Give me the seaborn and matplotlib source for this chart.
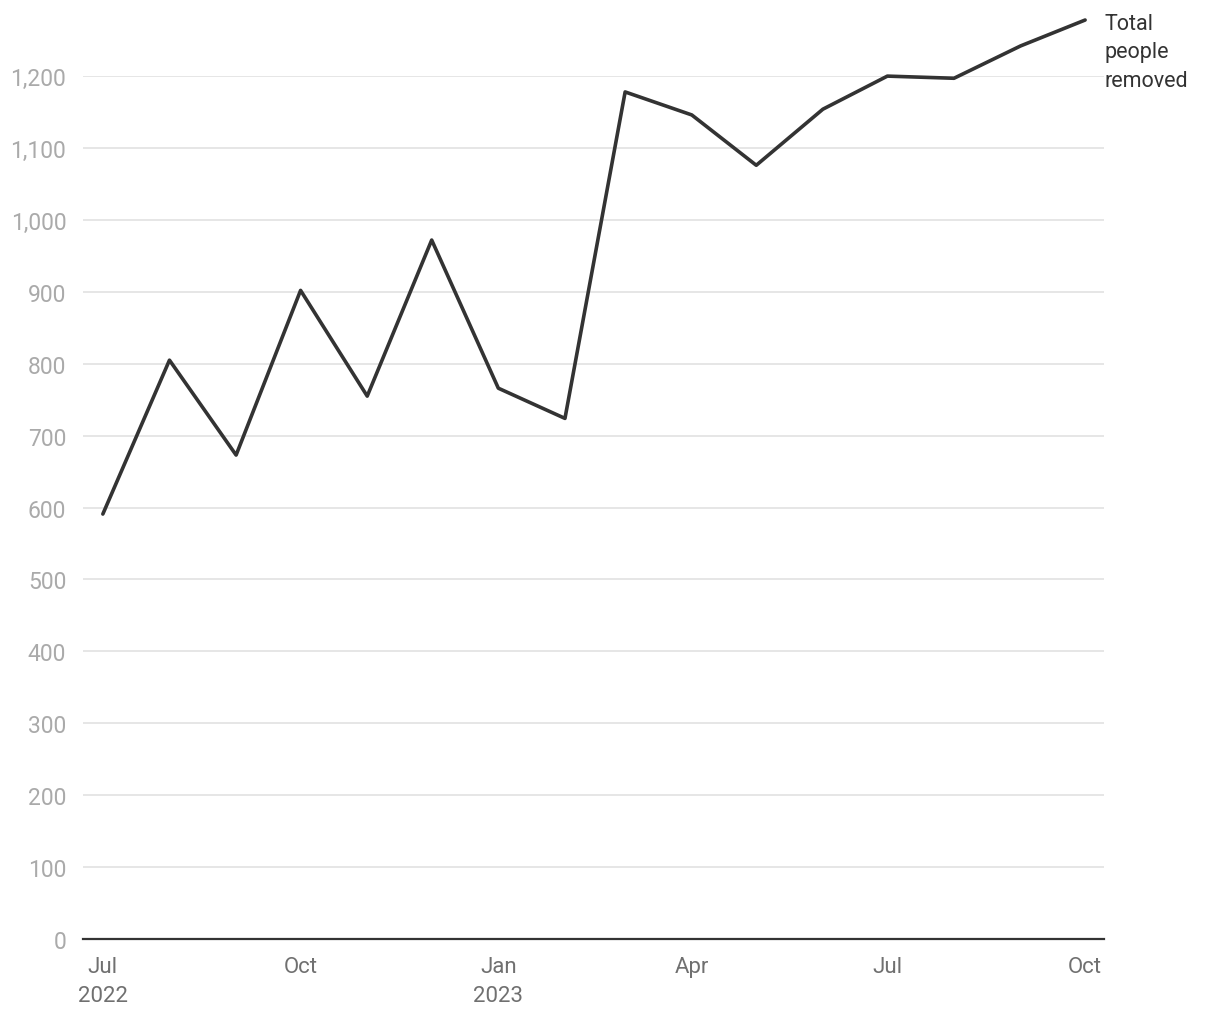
import matplotlib
matplotlib.use("Agg")
import matplotlib.pyplot as plt
import pandas as pd
import seaborn as sns

# monthly totals, Jul 2022 - Oct 2023
months = pd.date_range("2022-07-01", "2023-10-01", freq="MS")
removed = [591, 805, 673, 902, 755, 972, 766, 724,
           1178, 1146, 1076, 1154, 1200, 1197, 1242, 1278]
y_ticks = [0, 100, 200, 300, 400, 500, 600, 700, 800, 900, 1000, 1100, 1200]
x_ticks = ["2022-07-01", "2022-10-01", "2023-01-01", "2023-04-01", "2023-07-01", "2023-10-01"]
x_labels = ["Jul\n2022", "Oct", "Jan\n2023", "Apr", "Jul", "Oct"]
label = "Total\npeople\nremoved"

df = pd.DataFrame({"month": months, "removed": removed})

sns.set_theme(style="white")
plt.rcParams["font.family"] = ["Liberation Sans", "DejaVu Sans"]

fig = plt.figure(figsize=(12.2, 10.2), dpi=100)
ax = fig.add_axes([0.068, 0.0784, 0.837, 0.846])

sns.lineplot(data=df, x="month", y="removed", ax=ax, color="#333333",
             linewidth=2.6, clip_on=False)

ax.set_ylim(0, 1200)
ax.set_xlim(pd.Timestamp("2022-06-21 18:00"), pd.Timestamp("2023-10-09 20:00"))
ax.set_yticks(y_ticks)
ax.set_yticklabels([f"{v:,}" for v in y_ticks], fontsize=16.5, color="#aaaaaa",
                   family=["Roboto", "DejaVu Sans"])
ax.set_xticks([pd.Timestamp(t) for t in x_ticks])
ax.set_xticklabels(x_labels, fontsize=16, color="#707070", linespacing=1.55,
                   family=["Roboto", "DejaVu Sans"])
ax.tick_params(axis="y", length=0, pad=12)
ax.tick_params(axis="x", length=0, pad=12)

ax.grid(axis="y", color="#e6e6e6", linewidth=1.4)
ax.set_axisbelow(True)
for s in ["top", "right", "left"]:
    ax.spines[s].set_visible(False)
ax.spines["bottom"].set_color("#333333")
ax.spines["bottom"].set_linewidth(1.6)
ax.set_xlabel("")
ax.set_ylabel("")

ax.annotate(label, xy=(1.0, 1.0), xycoords="axes fraction",
            xytext=(0, 63), textcoords="offset pixels",
            ha="left", va="top", fontsize=15.5, color="#333333",
            linespacing=1.45, family=["Roboto", "DejaVu Sans"],
            annotation_clip=False)

fig.savefig("out.png", dpi=100)
